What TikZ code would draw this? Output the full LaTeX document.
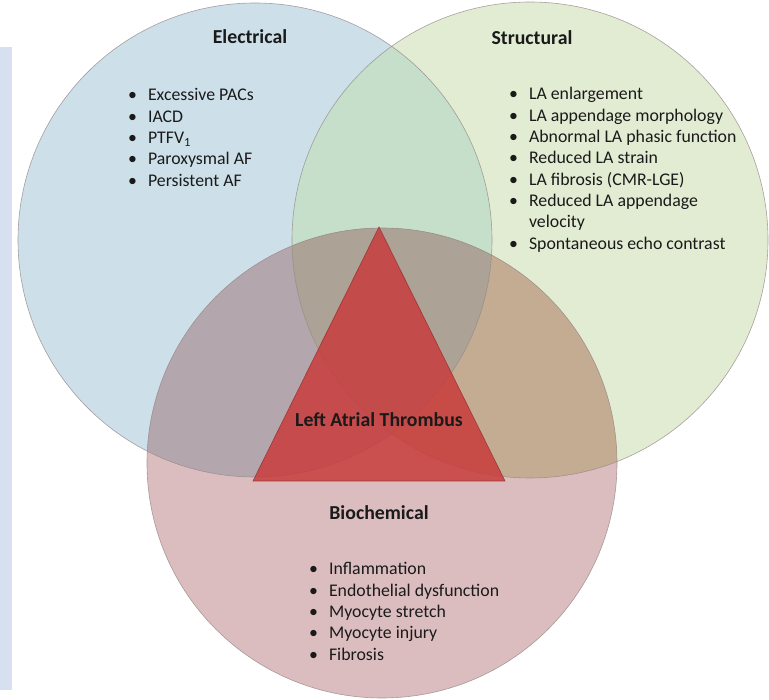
\documentclass[tikz,border=0pt]{standalone}
\usepackage{fontspec}
\setmainfont{Carlito}
\definecolor{sidebar}{HTML}{D6E0F0}
\definecolor{cBlue}{HTML}{CDE0EA}
\definecolor{cGreen}{HTML}{E2ECD3}
\definecolor{cRed}{HTML}{DBBDBF}
\definecolor{cBG}{HTML}{C5DFCA}
\definecolor{cBR}{HTML}{B4A6AD}
\definecolor{cGR}{HTML}{C4AC92}
\definecolor{cBGR}{HTML}{ACA295}
\definecolor{triFill}{HTML}{C83C3C}
\definecolor{triLine}{HTML}{A03535}
\definecolor{ringLine}{HTML}{978A8A}
\definecolor{ink}{HTML}{1A1A1A}
\newcommand{\listfont}{\fontsize{17.8}{21.3}\selectfont}
\newcommand{\titlefont}{\fontsize{19.8}{23}\selectfont\bfseries}
\begin{document}
\begin{tikzpicture}[x=1pt,y=-1pt,
  ring/.style={draw=ringLine,line width=0.6pt,draw opacity=0.8},
  tri/.style={fill=triFill,fill opacity=0.85,draw=triLine,line width=0.6pt},
  title/.style={font=\titlefont,text=ink,inner sep=0pt},
  bullets/.style={font=\listfont,text=ink,inner sep=0pt,anchor=base west}]
\useasboundingbox (0,0) rectangle (769,700);
% side strip
\fill[sidebar] (0,47) rectangle (12,690);
% circle centres
\coordinate (E) at (255,240);
\coordinate (S) at (530,240);
\coordinate (B) at (382,463);
\def\rE{237}\def\rS{238}\def\rB{235}
% single regions
\fill[cBlue]  (E) circle[radius=\rE];
\fill[cGreen] (S) circle[radius=\rS];
\fill[cRed]   (B) circle[radius=\rB];
% pairwise overlaps
\begin{scope}\clip (E) circle[radius=\rE];\fill[cBG] (S) circle[radius=\rS];\end{scope}
\begin{scope}\clip (E) circle[radius=\rE];\fill[cBR] (B) circle[radius=\rB];\end{scope}
\begin{scope}\clip (S) circle[radius=\rS];\fill[cGR] (B) circle[radius=\rB];\end{scope}
% triple overlap
\begin{scope}\clip (E) circle[radius=\rE];\clip (S) circle[radius=\rS];
  \fill[cBGR] (B) circle[radius=\rB];\end{scope}
% outlines
\draw[ring] (E) circle[radius=\rE];
\draw[ring] (S) circle[radius=\rS];
\draw[ring] (B) circle[radius=\rB];
% central triangle
\coordinate (apex) at (379,227);
\coordinate (bl) at (253,481);
\coordinate (br) at (505,481);
\filldraw[tri] (apex) -- (bl) -- (br) -- cycle;
% titles
\node[title] (tE) at (250,37) {Electrical};
\node[title] (tS) at (532,38) {Structural};
\node[title] (tB) at (379,513) {Biochemical};
\node[title] (tT) at (379,420) {Left Atrial Thrombus};
% lists
\node[bullets] (lE) at (128,101) {\begin{tabular}[t]{@{}l@{\hspace{11pt}}l@{}}
\textbullet & Excessive PACs\\
\textbullet & IACD\\
\textbullet & PTFV\textsubscript{1}\\
\textbullet & Paroxysmal AF\\
\textbullet & Persistent AF
\end{tabular}};
\node[bullets] (lS) at (509,100) {\begin{tabular}[t]{@{}l@{\hspace{11pt}}l@{}}
\textbullet & LA enlargement\\
\textbullet & LA appendage morphology\\
\textbullet & Abnormal LA phasic function\\
\textbullet & Reduced LA strain\\
\textbullet & LA fibrosis (CMR-LGE)\\
\textbullet & Reduced LA appendage\\
 & velocity\\
\textbullet & Spontaneous echo contrast
\end{tabular}};
\node[bullets] (lB) at (309,575) {\begin{tabular}[t]{@{}l@{\hspace{11pt}}l@{}}
\textbullet & Inflammation\\
\textbullet & Endothelial dysfunction\\
\textbullet & Myocyte stretch\\
\textbullet & Myocyte injury\\
\textbullet & Fibrosis
\end{tabular}};
\end{tikzpicture}
\end{document}
